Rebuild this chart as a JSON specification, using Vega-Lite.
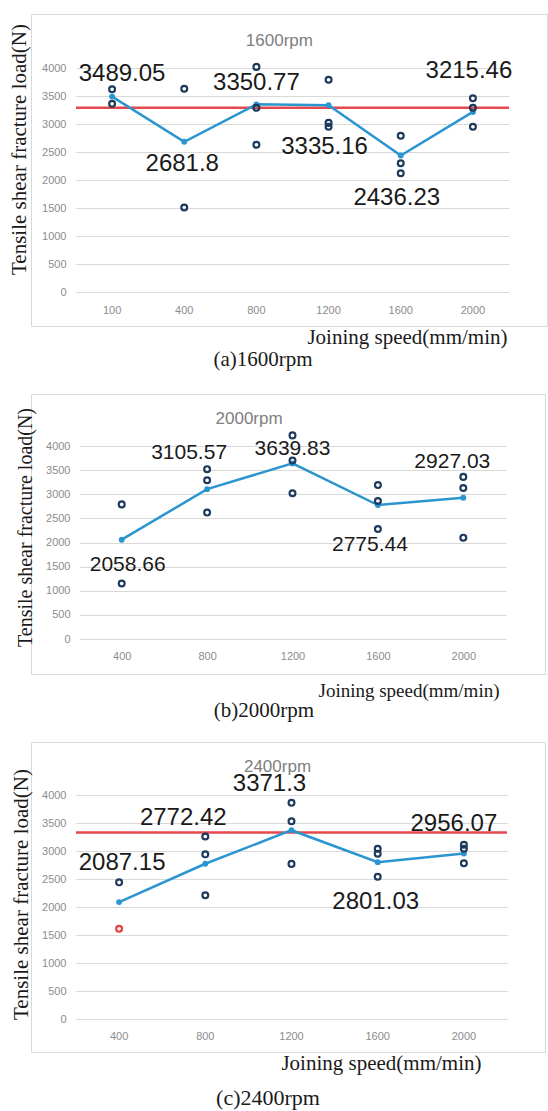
{
  "$schema": "https://vega.github.io/schema/vega-lite/v6.json",
  "padding": {"left": 7, "top": 13, "right": 0, "bottom": 0},
  "background": "white",
  "spacing": 68,
  "bounds": "flush",
  "config": {
    "view": {"stroke": "#d9d9d9", "strokeWidth": 1},
    "axis": {"labelFont": "Liberation Sans", "labelFontSize": 11, "labelColor": "#8c8c8c", "gridColor": "#d9d9d9", "gridWidth": 1, "domain": false, "ticks": false, "titleFont": "Liberation Serif", "titleFontWeight": "normal", "titleColor": "#1a1a1a"},
    "axisY": {"tickCount": 9, "format": "d"}
  },
  "datasets": {
    "a": [
      {"speed": 100, "load": 3489.05, "kind": "mean", "place": "up-right"},
      {"speed": 400, "load": 2681.8, "kind": "mean", "place": "down"},
      {"speed": 800, "load": 3350.77, "kind": "mean", "place": "up"},
      {"speed": 1200, "load": 3335.16, "kind": "mean", "place": "low"},
      {"speed": 1600, "load": 2436.23, "kind": "mean", "place": "low"},
      {"speed": 2000, "load": 3215.46, "kind": "mean", "place": "high"},
      {"speed": 100, "load": 3620, "kind": "sample"},
      {"speed": 100, "load": 3360, "kind": "sample"},
      {"speed": 400, "load": 3630, "kind": "sample"},
      {"speed": 400, "load": 1510, "kind": "sample"},
      {"speed": 800, "load": 4020, "kind": "sample"},
      {"speed": 800, "load": 3290, "kind": "sample"},
      {"speed": 800, "load": 2630, "kind": "sample"},
      {"speed": 1200, "load": 3790, "kind": "sample"},
      {"speed": 1200, "load": 3020, "kind": "sample"},
      {"speed": 1200, "load": 2950, "kind": "sample"},
      {"speed": 1600, "load": 2790, "kind": "sample"},
      {"speed": 1600, "load": 2300, "kind": "sample"},
      {"speed": 1600, "load": 2120, "kind": "sample"},
      {"speed": 2000, "load": 3460, "kind": "sample"},
      {"speed": 2000, "load": 3290, "kind": "sample"},
      {"speed": 2000, "load": 2950, "kind": "sample"},
      {"kind": "ref", "load": 3290},
      {"kind": "title", "label": "1600rpm"}
    ],
    "b": [
      {"speed": 400, "load": 2058.66, "kind": "mean", "place": "down"},
      {"speed": 800, "load": 3105.57, "kind": "mean", "place": "high-left"},
      {"speed": 1200, "load": 3639.83, "kind": "mean", "place": "up"},
      {"speed": 1600, "load": 2775.44, "kind": "mean", "place": "low"},
      {"speed": 2000, "load": 2927.03, "kind": "mean", "place": "high"},
      {"speed": 400, "load": 2790, "kind": "sample"},
      {"speed": 400, "load": 1150, "kind": "sample"},
      {"speed": 800, "load": 3520, "kind": "sample"},
      {"speed": 800, "load": 3290, "kind": "sample"},
      {"speed": 800, "load": 2620, "kind": "sample"},
      {"speed": 1200, "load": 4220, "kind": "sample"},
      {"speed": 1200, "load": 3700, "kind": "sample"},
      {"speed": 1200, "load": 3020, "kind": "sample"},
      {"speed": 1600, "load": 3190, "kind": "sample"},
      {"speed": 1600, "load": 2860, "kind": "sample"},
      {"speed": 1600, "load": 2280, "kind": "sample"},
      {"speed": 2000, "load": 3360, "kind": "sample"},
      {"speed": 2000, "load": 3130, "kind": "sample"},
      {"speed": 2000, "load": 2100, "kind": "sample"},
      {"kind": "title", "label": "2000rpm"}
    ],
    "c": [
      {"speed": 400, "load": 2087.15, "kind": "mean", "place": "high"},
      {"speed": 800, "load": 2772.42, "kind": "mean", "place": "high-left"},
      {"speed": 1200, "load": 3371.3, "kind": "mean", "place": "high-left"},
      {"speed": 1600, "load": 2801.03, "kind": "mean", "place": "low"},
      {"speed": 2000, "load": 2956.07, "kind": "mean", "place": "up"},
      {"speed": 400, "load": 2440, "kind": "sample"},
      {"speed": 400, "load": 1610, "kind": "outlier"},
      {"speed": 800, "load": 3260, "kind": "sample"},
      {"speed": 800, "load": 2940, "kind": "sample"},
      {"speed": 800, "load": 2210, "kind": "sample"},
      {"speed": 1200, "load": 3860, "kind": "sample"},
      {"speed": 1200, "load": 3530, "kind": "sample"},
      {"speed": 1200, "load": 2770, "kind": "sample"},
      {"speed": 1600, "load": 3040, "kind": "sample"},
      {"speed": 1600, "load": 2950, "kind": "sample"},
      {"speed": 1600, "load": 2540, "kind": "sample"},
      {"speed": 2000, "load": 3110, "kind": "sample"},
      {"speed": 2000, "load": 3040, "kind": "sample"},
      {"speed": 2000, "load": 2780, "kind": "sample"},
      {"kind": "ref", "load": 3330},
      {"kind": "title", "label": "2400rpm"}
    ]
  },
  "vconcat": [
    {
      "width": 516, "height": 312,
      "data": {"name": "a"},
      "title": {"text": "(a)1600rpm", "orient": "bottom", "anchor": "middle", "frame": "group", "dx": -26, "offset": 2, "font": "Liberation Serif", "fontSize": 21, "fontWeight": "normal", "color": "#1a1a1a"},
      "encoding": {
        "x": {"field": "speed", "type": "ordinal", "scale": {"range": [45, 478], "paddingInner": 0, "paddingOuter": 0},
              "axis": {"offset": -34, "labelPadding": 12, "labelAngle": 0, "grid": false, "title": "Joining speed(mm/min)", "titleFontSize": 21, "titleX": 476, "titleY": 45, "titleAlign": "right", "titleBaseline": "middle", "titleAngle": 0}}
      },
      "layer": [
        {"transform": [{"filter": "datum.kind == 'ref'"}], "mark": {"type": "rule", "color": "#e5484d", "strokeWidth": 2.5},
         "encoding": {"x": {"datum": 100, "type": "ordinal", "bandPosition": 0}, "x2": {"datum": 2000, "bandPosition": 1},
           "y": {"field": "load", "type": "quantitative", "scale": {"domain": [0, 4000], "range": [278, 54], "nice": false},
              "axis": {"offset": -45, "labelPadding": 10, "grid": true, "title": "Tensile shear fracture load(N)", "titleFontSize": 21, "titleX": -57, "titleY": 135, "titleAngle": 270, "titleAlign": "center", "titleBaseline": "middle"}}}},
        {"transform": [{"filter": "datum.kind == 'mean'"}], "mark": {"type": "line", "color": "#2b95d0", "strokeWidth": 2.5}, "encoding": {"y": {"field": "load", "type": "quantitative"}}},
        {"transform": [{"filter": "datum.kind == 'mean'"}], "mark": {"type": "circle", "color": "#2b95d0", "size": 35, "opacity": 1}, "encoding": {"y": {"field": "load", "type": "quantitative"}}},
        {"transform": [{"filter": "datum.kind == 'sample' || datum.kind == 'outlier'"}], "mark": {"type": "point", "shape": "circle", "filled": false, "size": 34, "strokeWidth": 2.2, "opacity": 1},
         "encoding": {"y": {"field": "load", "type": "quantitative"}, "stroke": {"field": "kind", "type": "nominal", "scale": {"domain": ["sample", "outlier"], "range": ["#1d3a5c", "#e8413c"]}, "legend": null}}},
        {"transform": [{"filter": "datum.place == 'up'"}], "mark": {"type": "text", "font": "Liberation Sans", "fontSize": 24, "color": "#1a1a1a", "baseline": "middle", "dy": -21}, "encoding": {"y": {"field": "load", "type": "quantitative"}, "text": {"field": "load", "format": ".6~r"}}},
        {"transform": [{"filter": "datum.place == 'up-right'"}], "mark": {"type": "text", "font": "Liberation Sans", "fontSize": 24, "color": "#1a1a1a", "baseline": "middle", "dy": -23, "dx": 10}, "encoding": {"y": {"field": "load", "type": "quantitative"}, "text": {"field": "load", "format": ".6~r"}}},
        {"transform": [{"filter": "datum.place == 'high'"}], "mark": {"type": "text", "font": "Liberation Sans", "fontSize": 24, "color": "#1a1a1a", "baseline": "middle", "dy": -41, "dx": -4}, "encoding": {"y": {"field": "load", "type": "quantitative"}, "text": {"field": "load", "format": ".6~r"}}},
        {"transform": [{"filter": "datum.place == 'down'"}], "mark": {"type": "text", "font": "Liberation Sans", "fontSize": 24, "color": "#1a1a1a", "baseline": "middle", "dy": 22, "dx": -2}, "encoding": {"y": {"field": "load", "type": "quantitative"}, "text": {"field": "load", "format": ".6~r"}}},
        {"transform": [{"filter": "datum.place == 'low'"}], "mark": {"type": "text", "font": "Liberation Sans", "fontSize": 24, "color": "#1a1a1a", "baseline": "middle", "dy": 42, "dx": -4}, "encoding": {"y": {"field": "load", "type": "quantitative"}, "text": {"field": "load", "format": ".6~r"}}},
        {"transform": [{"filter": "datum.kind == 'title'"}], "mark": {"type": "text", "font": "Liberation Sans", "fontSize": 17, "color": "#808080", "baseline": "middle", "dx": 23, "dy": -27},
         "encoding": {"x": {"datum": 800, "type": "ordinal"}, "y": {"datum": 4000, "type": "quantitative"}, "text": {"field": "label", "type": "nominal"}}}
      ]
    },
    {
      "width": 514, "height": 280,
      "data": {"name": "b"},
      "title": {"text": "(b)2000rpm", "orient": "bottom", "anchor": "middle", "frame": "group", "dx": -24, "offset": 0, "font": "Liberation Serif", "fontSize": 21, "fontWeight": "normal", "color": "#1a1a1a"},
      "encoding": {
        "x": {"field": "speed", "type": "ordinal", "scale": {"range": [48, 475], "paddingInner": 0, "paddingOuter": 0},
              "axis": {"offset": -35, "labelPadding": 11, "labelAngle": 0, "grid": false, "title": "Joining speed(mm/min)", "titleFontSize": 19, "titleX": 468, "titleY": 51, "titleAlign": "right", "titleBaseline": "middle", "titleAngle": 0}}
      },
      "layer": [
        {"transform": [{"filter": "datum.kind == 'mean'"}], "mark": {"type": "line", "color": "#2b95d0", "strokeWidth": 2.5},
         "encoding": {"y": {"field": "load", "type": "quantitative", "scale": {"domain": [0, 4000], "range": [245, 52], "nice": false},
              "axis": {"offset": -48, "labelPadding": 9, "grid": true, "title": "Tensile shear fracture load(N)", "titleFontSize": 20, "titleX": -54, "titleY": 133, "titleAngle": 270, "titleAlign": "center", "titleBaseline": "middle"}}}},
        {"transform": [{"filter": "datum.kind == 'mean'"}], "mark": {"type": "circle", "color": "#2b95d0", "size": 35, "opacity": 1}, "encoding": {"y": {"field": "load", "type": "quantitative"}}},
        {"transform": [{"filter": "datum.kind == 'sample' || datum.kind == 'outlier'"}], "mark": {"type": "point", "shape": "circle", "filled": false, "size": 34, "strokeWidth": 2.2, "opacity": 1},
         "encoding": {"y": {"field": "load", "type": "quantitative"}, "stroke": {"field": "kind", "type": "nominal", "scale": {"domain": ["sample", "outlier"], "range": ["#1d3a5c", "#e8413c"]}, "legend": null}}},
        {"transform": [{"filter": "datum.place == 'up'"}], "mark": {"type": "text", "font": "Liberation Sans", "fontSize": 21, "color": "#1a1a1a", "baseline": "middle", "dy": -14}, "encoding": {"y": {"field": "load", "type": "quantitative"}, "text": {"field": "load", "format": ".6~r"}}},
        {"transform": [{"filter": "datum.place == 'high'"}], "mark": {"type": "text", "font": "Liberation Sans", "fontSize": 21, "color": "#1a1a1a", "baseline": "middle", "dy": -36, "dx": -11}, "encoding": {"y": {"field": "load", "type": "quantitative"}, "text": {"field": "load", "format": ".6~r"}}},
        {"transform": [{"filter": "datum.place == 'high-left'"}], "mark": {"type": "text", "font": "Liberation Sans", "fontSize": 21, "color": "#1a1a1a", "baseline": "middle", "dy": -36, "dx": -18}, "encoding": {"y": {"field": "load", "type": "quantitative"}, "text": {"field": "load", "format": ".6~r"}}},
        {"transform": [{"filter": "datum.place == 'down'"}], "mark": {"type": "text", "font": "Liberation Sans", "fontSize": 21, "color": "#1a1a1a", "baseline": "middle", "dy": 25, "dx": 6}, "encoding": {"y": {"field": "load", "type": "quantitative"}, "text": {"field": "load", "format": ".6~r"}}},
        {"transform": [{"filter": "datum.place == 'low'"}], "mark": {"type": "text", "font": "Liberation Sans", "fontSize": 21, "color": "#1a1a1a", "baseline": "middle", "dy": 40, "dx": -8}, "encoding": {"y": {"field": "load", "type": "quantitative"}, "text": {"field": "load", "format": ".6~r"}}},
        {"transform": [{"filter": "datum.kind == 'title'"}], "mark": {"type": "text", "font": "Liberation Sans", "fontSize": 17, "color": "#808080", "baseline": "middle", "dx": 42, "dy": -27},
         "encoding": {"x": {"datum": 800, "type": "ordinal"}, "y": {"datum": 4000, "type": "quantitative"}, "text": {"field": "label", "type": "nominal"}}}
      ]
    },
    {
      "width": 514, "height": 310,
      "data": {"name": "c"},
      "title": {"text": "(c)2400rpm", "orient": "bottom", "anchor": "middle", "frame": "group", "dx": -20, "offset": 15, "font": "Liberation Serif", "fontSize": 22, "fontWeight": "normal", "color": "#1a1a1a"},
      "encoding": {
        "x": {"field": "speed", "type": "ordinal", "scale": {"range": [45, 476], "paddingInner": 0, "paddingOuter": 0},
              "axis": {"offset": -33, "labelPadding": 11, "labelAngle": 0, "grid": false, "title": "Joining speed(mm/min)", "titleFontSize": 21, "titleX": 450, "titleY": 44, "titleAlign": "right", "titleBaseline": "middle", "titleAngle": 0}}
      },
      "layer": [
        {"transform": [{"filter": "datum.kind == 'ref'"}], "mark": {"type": "rule", "color": "#e5484d", "strokeWidth": 2.5},
         "encoding": {"x": {"datum": 400, "type": "ordinal", "bandPosition": 0}, "x2": {"datum": 2000, "bandPosition": 1},
           "y": {"field": "load", "type": "quantitative", "scale": {"domain": [0, 4000], "range": [277, 53], "nice": false},
              "axis": {"offset": -45, "labelPadding": 10, "grid": true, "title": "Tensile shear fracture load(N)", "titleFontSize": 21, "titleX": -55, "titleY": 152, "titleAngle": 270, "titleAlign": "center", "titleBaseline": "middle"}}}},
        {"transform": [{"filter": "datum.kind == 'mean'"}], "mark": {"type": "line", "color": "#2b95d0", "strokeWidth": 2.5}, "encoding": {"y": {"field": "load", "type": "quantitative"}}},
        {"transform": [{"filter": "datum.kind == 'mean'"}], "mark": {"type": "circle", "color": "#2b95d0", "size": 35, "opacity": 1}, "encoding": {"y": {"field": "load", "type": "quantitative"}}},
        {"transform": [{"filter": "datum.kind == 'sample' || datum.kind == 'outlier'"}], "mark": {"type": "point", "shape": "circle", "filled": false, "size": 34, "strokeWidth": 2.2, "opacity": 1},
         "encoding": {"y": {"field": "load", "type": "quantitative"}, "stroke": {"field": "kind", "type": "nominal", "scale": {"domain": ["sample", "outlier"], "range": ["#1d3a5c", "#e8413c"]}, "legend": null}}},
        {"transform": [{"filter": "datum.kind == 'title'"}], "mark": {"type": "text", "font": "Liberation Sans", "fontSize": 17, "color": "#808080", "baseline": "middle", "dx": -14, "dy": -28},
         "encoding": {"x": {"datum": 1200, "type": "ordinal"}, "y": {"datum": 4000, "type": "quantitative"}, "text": {"field": "label", "type": "nominal"}}},
        {"transform": [{"filter": "datum.place == 'up'"}], "mark": {"type": "text", "font": "Liberation Sans", "fontSize": 24, "color": "#1a1a1a", "baseline": "middle", "dy": -29, "dx": -10}, "encoding": {"y": {"field": "load", "type": "quantitative"}, "text": {"field": "load", "format": ".6~r"}}},
        {"transform": [{"filter": "datum.place == 'high'"}], "mark": {"type": "text", "font": "Liberation Sans", "fontSize": 24, "color": "#1a1a1a", "baseline": "middle", "dy": -39, "dx": 3}, "encoding": {"y": {"field": "load", "type": "quantitative"}, "text": {"field": "load", "format": ".6~r"}}},
        {"transform": [{"filter": "datum.place == 'high-left'"}], "mark": {"type": "text", "font": "Liberation Sans", "fontSize": 24, "color": "#1a1a1a", "baseline": "middle", "dy": -46, "dx": -22}, "encoding": {"y": {"field": "load", "type": "quantitative"}, "text": {"field": "load", "format": ".6~r"}}},
        {"transform": [{"filter": "datum.place == 'low'"}], "mark": {"type": "text", "font": "Liberation Sans", "fontSize": 24, "color": "#1a1a1a", "baseline": "middle", "dy": 40, "dx": -2}, "encoding": {"y": {"field": "load", "type": "quantitative"}, "text": {"field": "load", "format": ".6~r"}}}
      ]
    }
  ]
}
